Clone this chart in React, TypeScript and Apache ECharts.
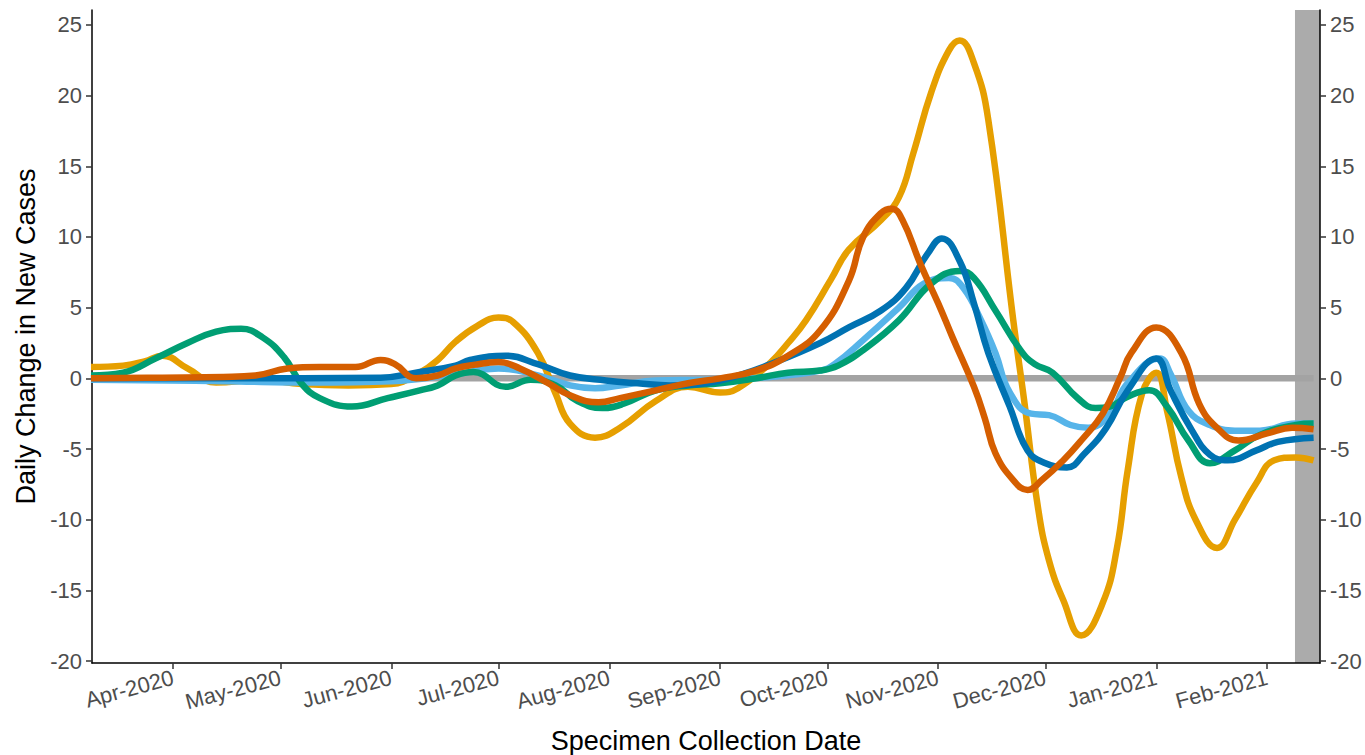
import React, { useEffect, useRef } from "react";
import * as echarts from "echarts";

const monthTicks = [
  "2020-04-01", "2020-05-01", "2020-06-01", "2020-07-01", "2020-08-01", "2020-09-01",
  "2020-10-01", "2020-11-01", "2020-12-01", "2021-01-01", "2021-02-01",
];
const monthNames = ["Jan", "Feb", "Mar", "Apr", "May", "Jun", "Jul", "Aug", "Sep", "Oct", "Nov", "Dec"];
const yTicks = [-20, -15, -10, -5, 0, 5, 10, 15, 20, 25];

const zeroLine: [string, number][] = [["2020-03-09", 0], ["2021-02-14", 0]];

const seriesYellow: [string, number][] = [
  ["2020-03-09", 0.8], ["2020-03-18", 0.9], ["2020-03-24", 1.2], ["2020-03-29", 1.6], ["2020-04-05", 0.7],
  ["2020-04-13", -0.3], ["2020-04-25", -0.1], ["2020-05-07", -0.4], ["2020-05-20", -0.5], ["2020-06-01", -0.4],
  ["2020-06-09", 0.4], ["2020-06-14", 1.3], ["2020-06-19", 2.6], ["2020-06-25", 3.7], ["2020-07-01", 4.3],
  ["2020-07-05", 4.0], ["2020-07-12", 1.8], ["2020-07-17", -1.1], ["2020-07-21", -3.2], ["2020-07-28", -4.2],
  ["2020-08-04", -3.5], ["2020-08-14", -1.6], ["2020-08-23", -0.6], ["2020-09-01", -1.0], ["2020-09-06", -0.7],
  ["2020-09-15", 1.1], ["2020-09-20", 2.5], ["2020-09-25", 4.1], ["2020-10-02", 7.0], ["2020-10-07", 9.1],
  ["2020-10-16", 11.2], ["2020-10-21", 12.8], ["2020-10-25", 15.9], ["2020-10-30", 20.2], ["2020-11-04", 23.2],
  ["2020-11-07", 23.9], ["2020-11-11", 22.3], ["2020-11-15", 18.3], ["2020-11-22", 4.1],
  ["2020-11-25", -1.5], ["2020-11-29", -9.3], ["2020-12-02", -12.9], ["2020-12-06", -15.7], ["2020-12-11", -18.2],
  ["2020-12-17", -15.9], ["2020-12-21", -12.0], ["2020-12-24", -6.5], ["2020-12-28", -1.1], ["2021-01-01", 0.4],
  ["2021-01-04", -2.3], ["2021-01-08", -7.0], ["2021-01-12", -10.0], ["2021-01-18", -12.0], ["2021-01-23", -10.0],
  ["2021-01-29", -7.4], ["2021-02-03", -5.8], ["2021-02-09", -5.6], ["2021-02-14", -5.8],
];

const seriesGreen: [string, number][] = [
  ["2020-03-09", 0.2], ["2020-03-18", 0.4], ["2020-03-27", 1.4], ["2020-04-05", 2.5], ["2020-04-13", 3.3],
  ["2020-04-20", 3.5], ["2020-04-26", 2.9], ["2020-05-02", 1.5], ["2020-05-07", -0.4], ["2020-05-12", -1.4],
  ["2020-05-21", -2.0], ["2020-05-31", -1.4], ["2020-06-09", -0.85], ["2020-06-14", -0.5], ["2020-06-19", 0.2],
  ["2020-06-24", 0.45], ["2020-07-03", -0.6], ["2020-07-10", -0.1], ["2020-07-17", -0.5], ["2020-07-23", -1.6],
  ["2020-07-30", -2.1], ["2020-08-05", -1.8], ["2020-08-14", -0.85], ["2020-08-23", -0.5], ["2020-09-01", -0.35],
  ["2020-09-11", 0.0], ["2020-09-20", 0.4], ["2020-09-29", 0.55], ["2020-10-04", 0.9], ["2020-10-11", 2.0],
  ["2020-10-21", 4.1], ["2020-10-30", 6.7], ["2020-11-07", 7.6], ["2020-11-11", 7.1], ["2020-11-17", 4.8],
  ["2020-11-24", 2.0], ["2020-11-28", 1.0], ["2020-12-03", 0.4], ["2020-12-10", -1.4], ["2020-12-15", -2.1],
  ["2020-12-19", -2.0], ["2020-12-24", -1.3], ["2020-12-30", -0.85], ["2021-01-04", -2.0], ["2021-01-10", -4.4],
  ["2021-01-16", -6.0], ["2021-01-23", -5.1], ["2021-01-30", -4.0], ["2021-02-09", -3.3], ["2021-02-14", -3.2],
];

const seriesSky: [string, number][] = [
  ["2020-03-09", -0.1], ["2020-04-15", -0.2], ["2020-05-10", -0.3], ["2020-06-01", -0.2], ["2020-06-19", 0.3],
  ["2020-07-01", 0.7], ["2020-07-12", 0.2], ["2020-07-21", -0.5], ["2020-07-28", -0.7], ["2020-08-04", -0.5],
  ["2020-08-14", -0.15], ["2020-08-28", -0.1], ["2020-09-15", 0.1], ["2020-09-29", 0.55], ["2020-10-03", 1.0],
  ["2020-10-11", 2.7], ["2020-10-21", 5.0], ["2020-10-28", 6.7], ["2020-11-04", 7.1], ["2020-11-08", 6.4],
  ["2020-11-13", 4.1], ["2020-11-17", 1.8], ["2020-11-21", -1.0], ["2020-11-27", -2.5], ["2020-12-02", -2.6],
  ["2020-12-08", -3.3], ["2020-12-13", -3.5], ["2020-12-19", -2.5], ["2020-12-24", -0.35], ["2021-01-02", 1.4],
  ["2021-01-05", 0.3], ["2021-01-10", -2.3], ["2021-01-16", -3.3], ["2021-01-23", -3.7], ["2021-01-30", -3.7],
  ["2021-02-09", -3.2], ["2021-02-14", -3.2],
];

const seriesBlue: [string, number][] = [
  ["2020-03-09", 0.0], ["2020-04-15", 0.0], ["2020-05-29", 0.05], ["2020-06-09", 0.45], ["2020-06-19", 0.9],
  ["2020-06-23", 1.3], ["2020-07-03", 1.6], ["2020-07-12", 1.0], ["2020-07-21", 0.2], ["2020-07-31", -0.15],
  ["2020-08-09", -0.35], ["2020-08-18", -0.5], ["2020-08-28", -0.35], ["2020-09-06", 0.2], ["2020-09-15", 1.0],
  ["2020-09-29", 2.5], ["2020-10-07", 3.6], ["2020-10-16", 4.8], ["2020-10-23", 6.4], ["2020-10-29", 8.8],
  ["2020-11-02", 9.9], ["2020-11-07", 8.3], ["2020-11-11", 5.3], ["2020-11-15", 1.8], ["2020-11-21", -2.0],
  ["2020-11-26", -5.1], ["2020-12-01", -6.0], ["2020-12-07", -6.3], ["2020-12-12", -5.3], ["2020-12-18", -3.5],
  ["2020-12-24", -0.85], ["2021-01-01", 1.4], ["2021-01-05", -0.85], ["2021-01-11", -3.7], ["2021-01-16", -5.4],
  ["2021-01-21", -5.8], ["2021-01-29", -5.1], ["2021-02-04", -4.5], ["2021-02-14", -4.2],
];

const seriesRed: [string, number][] = [
  ["2020-03-09", 0.0], ["2020-03-29", 0.05], ["2020-04-15", 0.1], ["2020-04-24", 0.2], ["2020-05-03", 0.7],
  ["2020-05-12", 0.8], ["2020-05-22", 0.8], ["2020-05-29", 1.3], ["2020-06-02", 1.0], ["2020-06-08", 0.0],
  ["2020-06-14", 0.2], ["2020-06-19", 0.7], ["2020-06-24", 0.95], ["2020-07-01", 1.15], ["2020-07-07", 0.7],
  ["2020-07-15", -0.35], ["2020-07-21", -1.2], ["2020-07-29", -1.7], ["2020-08-04", -1.4], ["2020-08-14", -0.85],
  ["2020-08-23", -0.35], ["2020-09-01", 0.0], ["2020-09-11", 0.55], ["2020-09-20", 1.6], ["2020-09-29", 3.4],
  ["2020-10-07", 6.9], ["2020-10-11", 10.0], ["2020-10-16", 11.7], ["2020-10-19", 12.0], ["2020-10-22", 11.2],
  ["2020-10-27", 8.1], ["2020-11-01", 5.3], ["2020-11-05", 2.9], ["2020-11-11", -0.6], ["2020-11-14", -2.8],
  ["2020-11-17", -5.3], ["2020-11-22", -7.2], ["2020-11-26", -7.9], ["2020-11-30", -7.2], ["2020-12-06", -5.8],
  ["2020-12-11", -4.4], ["2020-12-17", -2.5], ["2020-12-22", 0.1], ["2020-12-25", 1.8], ["2021-01-01", 3.6],
  ["2021-01-08", 1.8], ["2021-01-13", -1.8], ["2021-01-18", -3.5], ["2021-01-24", -4.4], ["2021-02-01", -3.9],
  ["2021-02-08", -3.5], ["2021-02-14", -3.6],
];

const X_MIN = new Date(2020, 2, 9, 7).getTime();
const X_MAX = new Date(2021, 1, 15, 19).getTime();
const BAND_START = new Date(2021, 1, 8, 19).getTime();
const Y_MIN = -20.14;
const Y_MAX = 26.06;

const FONT = "'Liberation Sans', Arial, sans-serif";

function toTs(s: string) {
  const [y, m, d] = s.split("-").map(Number);
  return new Date(y, m - 1, d).getTime();
}

function lineSeries(name: string, data: [string, number][], color: string) {
  return {
    name,
    type: "line",
    data: data.map(([d, v]) => [toTs(d), v]),
    smooth: 0.45,
    showSymbol: false,
    symbol: "none",
    lineStyle: { color, width: 6.5, cap: "butt", join: "round" },
    emphasis: { disabled: true },
  };
}

export default function App() {
  const ref = useRef<HTMLDivElement>(null);
  useEffect(() => {
    if (!ref.current) return;
    const chart = echarts.init(ref.current, null, { renderer: "svg" });
    const tickTs = monthTicks.map(toTs);
    const yAxisBase = (position: "left" | "right") => ({
      type: "value",
      position,
      min: Y_MIN,
      max: Y_MAX,
      splitLine: { show: false },
      axisLine: { show: true, onZero: false, lineStyle: { color: "#000", width: 1.5 } },
      axisTick: { show: true, length: 6, lineStyle: { color: "#333", width: 1.5 }, customValues: yTicks },
      axisLabel: {
        show: true,
        customValues: yTicks,
        color: "#4D4D4D",
        fontSize: 22,
        fontFamily: FONT,
        margin: 10,
      },
    });
    chart.setOption({
      animation: false,
      backgroundColor: "#fff",
      grid: { left: 92, right: 45, top: 10, bottom: 92, containLabel: false, outerBoundsMode: "none" },
      xAxis: {
        type: "value",
        min: X_MIN,
        max: X_MAX,
        name: "Specimen Collection Date",
        nameLocation: "middle",
        nameGap: 64,
        nameTextStyle: { color: "#000", fontSize: 27, fontFamily: FONT },
        splitLine: { show: false },
        axisLine: { show: true, onZero: false, lineStyle: { color: "#000", width: 1.5 } },
        axisTick: { show: true, length: 6, lineStyle: { color: "#333", width: 1.5 }, customValues: tickTs },
        minorTick: { show: false },
        axisLabel: {
          customValues: tickTs,
          rotate: 15,
          margin: 14,
          color: "#4D4D4D",
          fontSize: 22,
          fontFamily: FONT,
          formatter: (v: number) => {
            const d = new Date(v);
            return `${monthNames[d.getMonth()]}-${d.getFullYear()}`;
          },
        },
      },
      yAxis: [
        {
          ...yAxisBase("left"),
          name: "Daily Change in New Cases",
          nameLocation: "middle",
          nameGap: 50,
          nameTextStyle: { color: "#000", fontSize: 27, fontFamily: FONT },
        },
        { ...yAxisBase("right") },
      ],
      series: [
        {
          name: "zero",
          type: "line",
          data: zeroLine.map(([d, v]) => [toTs(d), v]),
          showSymbol: false,
          symbol: "none",
          lineStyle: { color: "#A3A3A3", width: 6.5 },
          emphasis: { disabled: true },
          z: 1,
        },
        { ...lineSeries("A", seriesYellow, "#E69F00"), z: 2 },
        { ...lineSeries("B", seriesSky, "#56B4E9"), z: 2 },
        { ...lineSeries("C", seriesGreen, "#009E73"), z: 2 },
        { ...lineSeries("D", seriesBlue, "#0072B2"), z: 2 },
        { ...lineSeries("E", seriesRed, "#D55E00"), z: 2 },
        {
          name: "band",
          type: "line",
          data: [],
          showSymbol: false,
          symbol: "none",
          z: 10,
          silent: true,
          markArea: {
            silent: true,
            itemStyle: { color: "rgba(0,0,0,0.33)" },
            data: [[{ xAxis: BAND_START }, { xAxis: X_MAX }]],
          },
        },
      ],
    });
    return () => chart.dispose();
  }, []);
  return (
    <div
      ref={ref}
      style={{ position: "absolute", left: 0, top: 0, width: 1365, height: 755, background: "#fff" }}
    />
  );
}
